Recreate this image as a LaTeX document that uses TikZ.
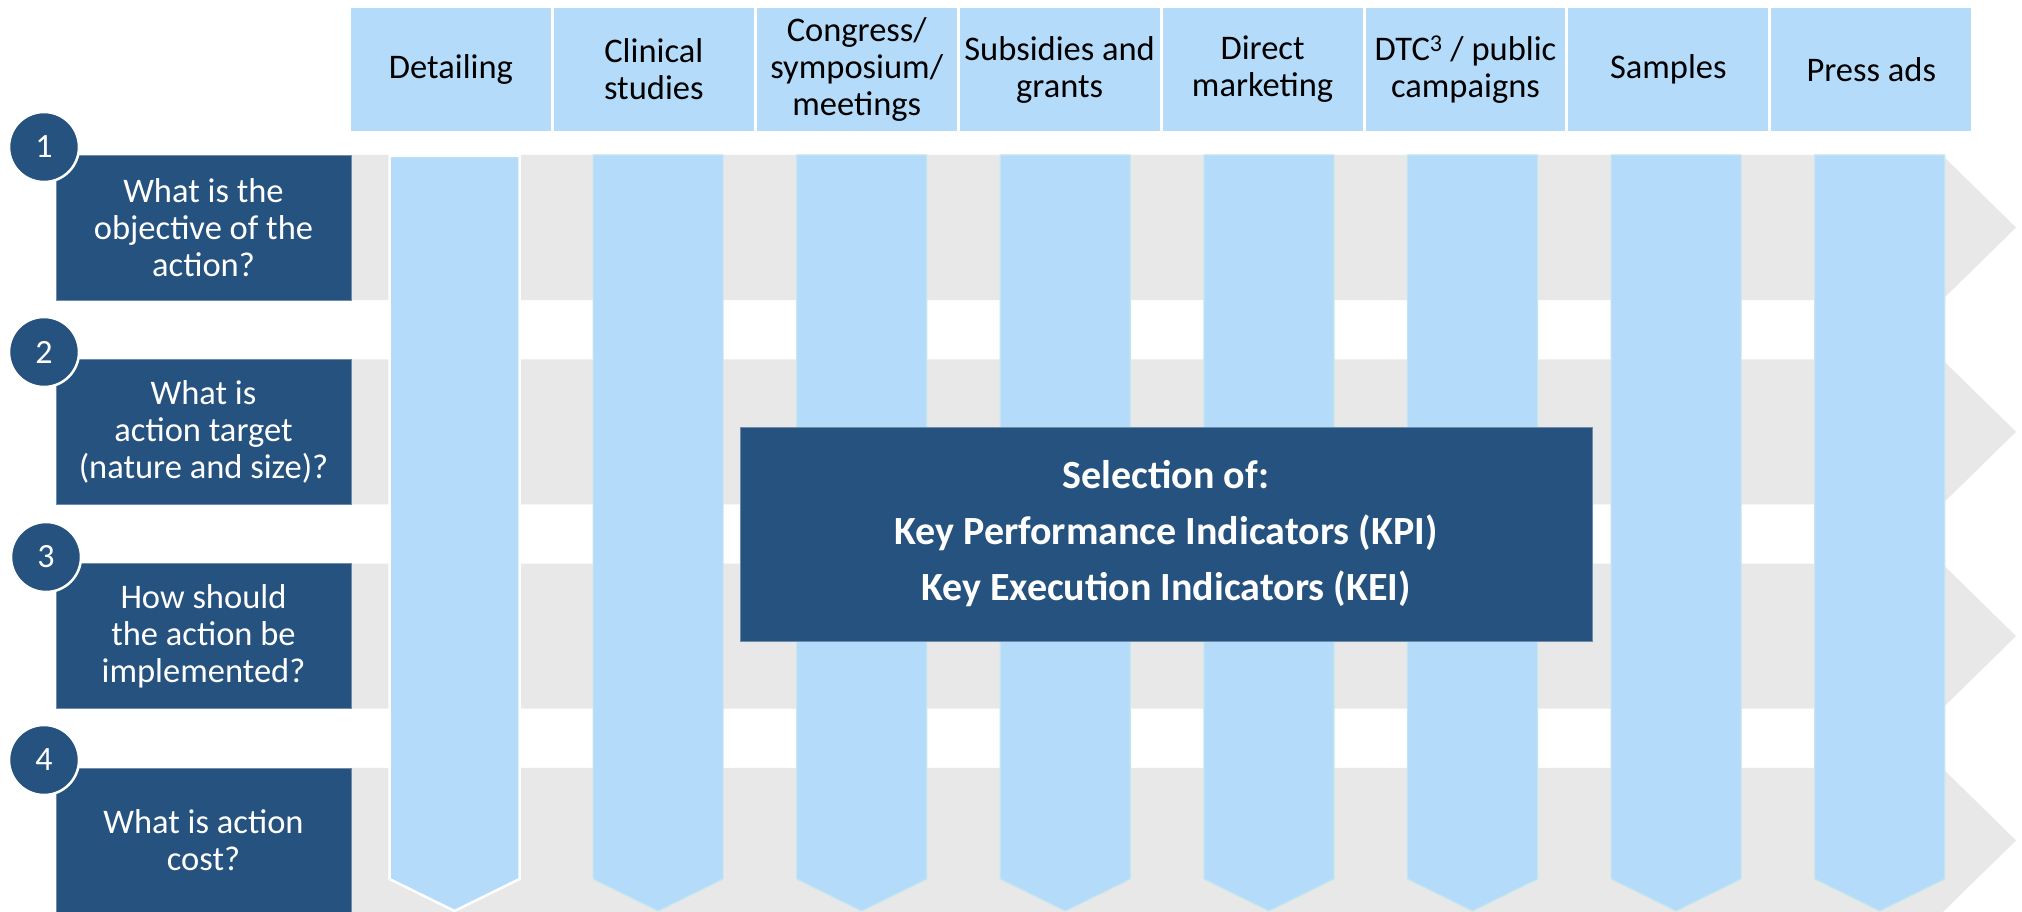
\documentclass[tikz,border=0pt]{standalone}
\usepackage{fontspec}
\setmainfont{Carlito}
\definecolor{dblue}{RGB}{37,82,126}
\definecolor{dedge}{RGB}{110,140,170}
\definecolor{lblue}{RGB}{180,220,250}
\definecolor{band}{RGB}{232,232,232}
\definecolor{edgeteal}{RGB}{196,230,238}
\begin{document}
\begin{tikzpicture}[x=1pt,y=-1pt,
  header/.style={fill=lblue, minimum width=199.9pt, minimum height=123pt, inner sep=0pt, align=center, text=black, font=\fontsize{34.5}{37}\selectfont},
  question/.style={fill=dblue, draw=dedge, line width=0.8pt, minimum width=295pt, minimum height=145pt, inner sep=0pt, align=center, text=white, font=\fontsize{34.5}{37}\selectfont},
  num/.style={circle, fill=dblue, draw=white, line width=2.5pt, minimum size=70pt, inner sep=0pt, text=white, font=\fontsize{34}{38}\selectfont},
  bandshape/.style={fill=band},
  colshape/.style={fill=lblue, draw=edgeteal, line width=1.2pt},
  firstcol/.style={fill=lblue, draw=white, line width=2.5pt},
  keybox/.style={fill=dblue, draw=dedge, line width=1pt, minimum width=852pt, minimum height=214pt, inner sep=0pt, align=center, text=white, font=\fontsize{40}{56}\selectfont\bfseries}
]
\useasboundingbox (0,0) rectangle (2022,912);
\fill[white] (0,0) rectangle (2022,912);

% headers
\foreach \lab [count=\i from 0] in {Detailing, {Clinical\\studies}, {Congress/\\symposium/\\meetings}, {Subsidies and\\grants}, {Direct\\marketing}, {DTC\textsuperscript{3} / public\\campaigns}, Samples, Press ads}{
  \pgfmathsetmacro\hx{351+202.9*\i+99.95}
  \node[header] (h\i) at (\hx,69.5) {\lab};
}

% grey arrow bands
\foreach \k in {0,...,3}{
  \pgfmathsetmacro\t{155+204.3*\k}
  \pgfmathsetmacro\b{\t+145}
  \pgfmathsetmacro\m{\t+72.5}
  \fill[bandshape] (351,\t) -- (1942,\t) -- (2016,\m) -- (1942,\b) -- (351,\b) -- cycle;
}

% blue down arrows
\foreach \i in {1,...,7}{
  \pgfmathsetmacro\c{454.5+203.6*\i}
  \filldraw[colshape] (\c-65,155) -- (\c+65,155) -- (\c+65,879) -- (\c,911) -- (\c-65,879) -- cycle;
}
\filldraw[firstcol] (389.5,156) -- (519.5,156) -- (519.5,879) -- (454.5,911) -- (389.5,879) -- cycle;

% question boxes
\node[question] (q1) at (203.5,227.5) {What is the\\objective of the\\action?};
\node[question] (q2) at (203.5,431.8) {What is\\action target\\(nature and size)?};
\node[question] (q3) at (203.5,636.1) {How should\\the action be\\implemented?};
\node[question] (q4) at (203.5,840.4) {What is action\\cost?};

% numbered circles
\node[num] (n1) at (44,147) {1};
\node[num] (n2) at (44,352) {2};
\node[num] (n3) at (46,557) {3};
\node[num] (n4) at (44,760) {4};

% central box
\node[keybox] (kpi) at (1166,534) {Selection of:\\Key Performance Indicators (KPI)\\Key Execution Indicators (KEI)};
\end{tikzpicture}
\end{document}
